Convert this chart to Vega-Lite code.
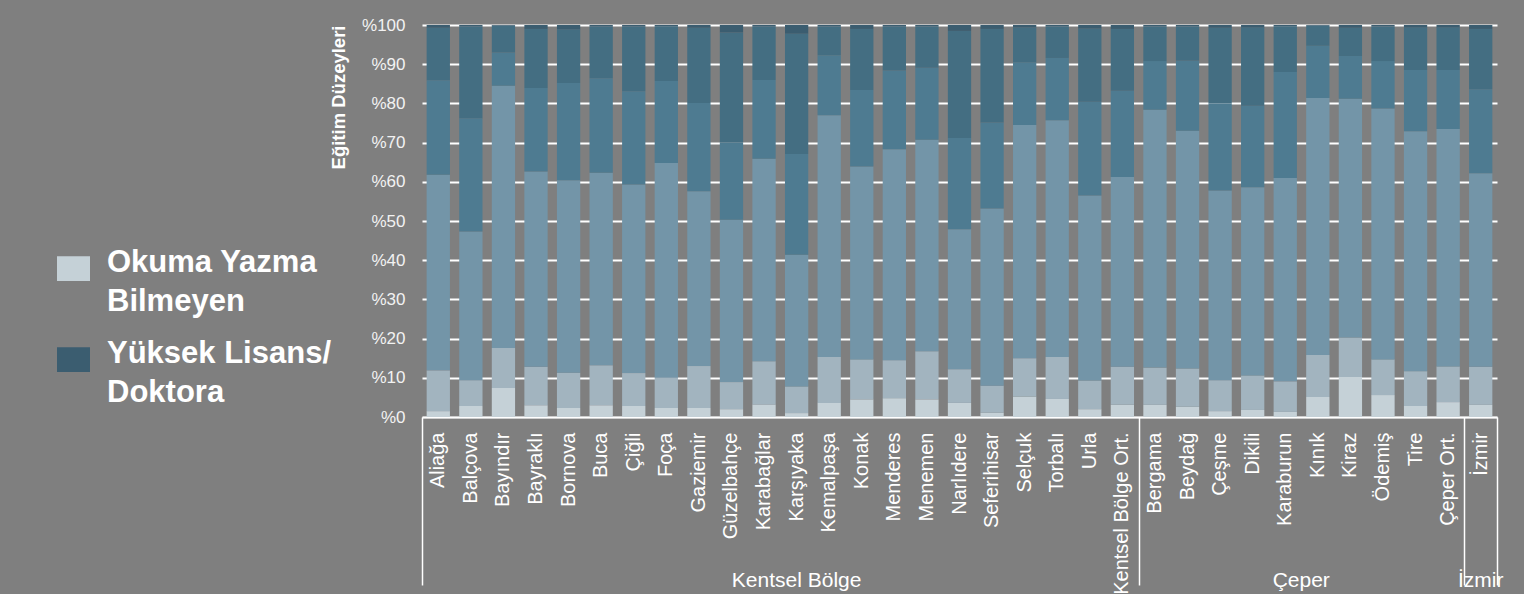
{
  "$schema": "https://vega.github.io/schema/vega-lite/v6.json",
  "width": 1075,
  "height": 392,
  "autosize": {"type": "none"},
  "padding": {"left": 422, "top": 25, "right": 27, "bottom": 177},
  "background": "#7f7f7f",
  "config": {"view": {"stroke": null}, "font": "Liberation Sans"},
  "datasets": {
    "duzeyler": [
      {"duzey": "Okuma Yazma Bilmeyen", "sira": 1},
      {"duzey": "Okuma Yazma Bilen", "sira": 2},
      {"duzey": "İlköğretim", "sira": 3},
      {"duzey": "Lise", "sira": 4},
      {"duzey": "Üniversite", "sira": 5},
      {"duzey": "Yüksek Lisans/ Doktora", "sira": 6}
    ]
  },
  "data": {
    "values": [
      {"ilce": "Aliağa", "Okuma Yazma Bilmeyen": 1.5, "Okuma Yazma Bilen": 10.4, "İlköğretim": 49.9, "Lise": 24.1, "Üniversite": 13.4, "Yüksek Lisans/ Doktora": 0.7},
      {"ilce": "Balçova", "Okuma Yazma Bilmeyen": 2.8, "Okuma Yazma Bilen": 6.6, "İlköğretim": 37.9, "Lise": 28.9, "Üniversite": 23.4, "Yüksek Lisans/ Doktora": 0.4},
      {"ilce": "Bayındır", "Okuma Yazma Bilmeyen": 7.4, "Okuma Yazma Bilen": 10.2, "İlköğretim": 66.9, "Lise": 8.5, "Üniversite": 6.8, "Yüksek Lisans/ Doktora": 0.2},
      {"ilce": "Bayraklı", "Okuma Yazma Bilmeyen": 3.0, "Okuma Yazma Bilen": 9.8, "İlköğretim": 49.8, "Lise": 21.3, "Üniversite": 15.1, "Yüksek Lisans/ Doktora": 1.0},
      {"ilce": "Bornova", "Okuma Yazma Bilmeyen": 2.3, "Okuma Yazma Bilen": 9.0, "İlköğretim": 49.1, "Lise": 24.8, "Üniversite": 13.7, "Yüksek Lisans/ Doktora": 1.1},
      {"ilce": "Buca", "Okuma Yazma Bilmeyen": 3.0, "Okuma Yazma Bilen": 10.2, "İlköğretim": 49.1, "Lise": 24.1, "Üniversite": 13.2, "Yüksek Lisans/ Doktora": 0.4},
      {"ilce": "Çiğli", "Okuma Yazma Bilmeyen": 2.8, "Okuma Yazma Bilen": 8.4, "İlköğretim": 48.1, "Lise": 23.8, "Üniversite": 16.5, "Yüksek Lisans/ Doktora": 0.4},
      {"ilce": "Foça", "Okuma Yazma Bilmeyen": 2.3, "Okuma Yazma Bilen": 7.7, "İlköğretim": 54.8, "Lise": 20.9, "Üniversite": 14.0, "Yüksek Lisans/ Doktora": 0.3},
      {"ilce": "Gaziemir", "Okuma Yazma Bilmeyen": 2.3, "Okuma Yazma Bilen": 10.7, "İlköğretim": 44.6, "Lise": 22.5, "Üniversite": 19.2, "Yüksek Lisans/ Doktora": 0.7},
      {"ilce": "Güzelbahçe", "Okuma Yazma Bilmeyen": 2.0, "Okuma Yazma Bilen": 6.9, "İlköğretim": 41.4, "Lise": 19.7, "Üniversite": 28.1, "Yüksek Lisans/ Doktora": 1.9},
      {"ilce": "Karabağlar", "Okuma Yazma Bilmeyen": 3.2, "Okuma Yazma Bilen": 11.0, "İlköğretim": 51.7, "Lise": 20.1, "Üniversite": 13.6, "Yüksek Lisans/ Doktora": 0.4},
      {"ilce": "Karşıyaka", "Okuma Yazma Bilmeyen": 1.0, "Okuma Yazma Bilen": 6.8, "İlköğretim": 33.6, "Lise": 25.7, "Üniversite": 30.7, "Yüksek Lisans/ Doktora": 2.2},
      {"ilce": "Kemalpaşa", "Okuma Yazma Bilmeyen": 3.6, "Okuma Yazma Bilen": 11.7, "İlköğretim": 61.7, "Lise": 15.3, "Üniversite": 7.3, "Yüksek Lisans/ Doktora": 0.4},
      {"ilce": "Konak", "Okuma Yazma Bilmeyen": 4.5, "Okuma Yazma Bilen": 10.2, "İlköğretim": 49.2, "Lise": 19.5, "Üniversite": 15.6, "Yüksek Lisans/ Doktora": 1.0},
      {"ilce": "Menderes", "Okuma Yazma Bilmeyen": 4.8, "Okuma Yazma Bilen": 9.7, "İlköğretim": 53.8, "Lise": 20.1, "Üniversite": 11.2, "Yüksek Lisans/ Doktora": 0.4},
      {"ilce": "Menemen", "Okuma Yazma Bilmeyen": 4.5, "Okuma Yazma Bilen": 12.3, "İlköğretim": 53.9, "Lise": 18.4, "Üniversite": 10.5, "Yüksek Lisans/ Doktora": 0.4},
      {"ilce": "Narlıdere", "Okuma Yazma Bilmeyen": 3.6, "Okuma Yazma Bilen": 8.6, "İlköğretim": 35.7, "Lise": 23.3, "Üniversite": 27.3, "Yüksek Lisans/ Doktora": 1.5},
      {"ilce": "Seferihisar", "Okuma Yazma Bilmeyen": 1.1, "Okuma Yazma Bilen": 6.9, "İlköğretim": 45.2, "Lise": 21.9, "Üniversite": 23.9, "Yüksek Lisans/ Doktora": 1.0},
      {"ilce": "Selçuk", "Okuma Yazma Bilmeyen": 5.2, "Okuma Yazma Bilen": 9.8, "İlköğretim": 59.5, "Lise": 16.0, "Üniversite": 8.9, "Yüksek Lisans/ Doktora": 0.6},
      {"ilce": "Torbalı", "Okuma Yazma Bilmeyen": 4.6, "Okuma Yazma Bilen": 10.7, "İlköğretim": 60.4, "Lise": 15.9, "Üniversite": 8.0, "Yüksek Lisans/ Doktora": 0.4},
      {"ilce": "Urla", "Okuma Yazma Bilmeyen": 2.0, "Okuma Yazma Bilen": 7.3, "İlköğretim": 47.2, "Lise": 23.9, "Üniversite": 18.7, "Yüksek Lisans/ Doktora": 0.9},
      {"ilce": "Kentsel Bölge Ort.", "Okuma Yazma Bilmeyen": 3.1, "Okuma Yazma Bilen": 9.7, "İlköğretim": 48.4, "Lise": 22.0, "Üniversite": 15.8, "Yüksek Lisans/ Doktora": 1.0},
      {"ilce": "Bergama", "Okuma Yazma Bilmeyen": 3.1, "Okuma Yazma Bilen": 9.5, "İlköğretim": 65.8, "Lise": 12.4, "Üniversite": 8.8, "Yüksek Lisans/ Doktora": 0.4},
      {"ilce": "Beydağ", "Okuma Yazma Bilmeyen": 2.6, "Okuma Yazma Bilen": 9.8, "İlköğretim": 60.6, "Lise": 17.9, "Üniversite": 8.7, "Yüksek Lisans/ Doktora": 0.4},
      {"ilce": "Çeşme", "Okuma Yazma Bilmeyen": 1.5, "Okuma Yazma Bilen": 7.9, "İlköğretim": 48.4, "Lise": 22.2, "Üniversite": 19.3, "Yüksek Lisans/ Doktora": 0.7},
      {"ilce": "Dikili", "Okuma Yazma Bilmeyen": 1.8, "Okuma Yazma Bilen": 8.8, "İlköğretim": 48.0, "Lise": 20.8, "Üniversite": 20.0, "Yüksek Lisans/ Doktora": 0.6},
      {"ilce": "Karaburun", "Okuma Yazma Bilmeyen": 1.3, "Okuma Yazma Bilen": 7.8, "İlköğretim": 51.9, "Lise": 27.0, "Üniversite": 11.7, "Yüksek Lisans/ Doktora": 0.3},
      {"ilce": "Kınık", "Okuma Yazma Bilmeyen": 5.1, "Okuma Yazma Bilen": 10.7, "İlköğretim": 65.6, "Lise": 13.3, "Üniversite": 5.1, "Yüksek Lisans/ Doktora": 0.2},
      {"ilce": "Kiraz", "Okuma Yazma Bilmeyen": 10.2, "Okuma Yazma Bilen": 10.1, "İlköğretim": 60.9, "Lise": 10.9, "Üniversite": 7.2, "Yüksek Lisans/ Doktora": 0.7},
      {"ilce": "Ödemiş", "Okuma Yazma Bilmeyen": 5.6, "Okuma Yazma Bilen": 9.1, "İlköğretim": 64.0, "Lise": 12.1, "Üniversite": 8.8, "Yüksek Lisans/ Doktora": 0.4},
      {"ilce": "Tire", "Okuma Yazma Bilmeyen": 2.8, "Okuma Yazma Bilen": 8.9, "İlköğretim": 61.2, "Lise": 15.6, "Üniversite": 10.9, "Yüksek Lisans/ Doktora": 0.6},
      {"ilce": "Çeper Ort.", "Okuma Yazma Bilmeyen": 3.8, "Okuma Yazma Bilen": 9.1, "İlköğretim": 60.6, "Lise": 15.0, "Üniversite": 10.9, "Yüksek Lisans/ Doktora": 0.6},
      {"ilce": "İzmir", "Okuma Yazma Bilmeyen": 3.1, "Okuma Yazma Bilen": 9.7, "İlköğretim": 49.4, "Lise": 21.4, "Üniversite": 15.4, "Yüksek Lisans/ Doktora": 1.0}
    ]
  },
  "transform": [
    {"fold": ["Okuma Yazma Bilmeyen", "Okuma Yazma Bilen", "İlköğretim", "Lise", "Üniversite", "Yüksek Lisans/ Doktora"], "as": ["duzey", "yuzde"]},
    {"lookup": "duzey", "from": {"data": {"name": "duzeyler"}, "key": "duzey", "fields": ["sira"]}}
  ],
  "layer": [
    {
      "mark": {"type": "bar", "width": {"band": 0.715}},
      "encoding": {
        "x": {
          "field": "ilce", "type": "nominal", "sort": null,
          "scale": {"paddingInner": 0, "paddingOuter": 0},
          "axis": {
            "title": null, "orient": "bottom", "labelAngle": 270, "labelFontSize": 20,
            "labelColor": "#ffffff", "labelPadding": 15, "ticks": false,
            "domainColor": "#ffffff", "domainWidth": 1.5, "labelLimit": 300
          }
        },
        "y": {
          "field": "yuzde", "type": "quantitative", "stack": "zero",
          "scale": {"domain": [0, 100], "nice": false},
          "axis": {
            "values": [0, 10, 20, 30, 40, 50, 60, 70, 80, 90, 100],
            "labelExpr": "'%' + datum.value",
            "labelFontSize": 17, "labelColor": "#f2f2f2", "labelPadding": 17,
            "ticks": false, "domain": false,
            "grid": true, "gridColor": "#ffffff", "gridWidth": 2,
            "title": "Eğitim Düzeyleri", "titleFontSize": 18.5, "titleFontWeight": "bold",
            "titleColor": "#ffffff", "titleAnchor": "end", "titlePadding": 13
          }
        },
        "color": {
          "field": "duzey", "type": "nominal",
          "scale": {
            "domain": ["Okuma Yazma Bilmeyen", "Okuma Yazma Bilen", "İlköğretim", "Lise", "Üniversite", "Yüksek Lisans/ Doktora"],
            "range": ["#c5d1d7", "#a2b4bf", "#7395a8", "#4e7b91", "#446e82", "#3b5d70"]
          },
          "legend": {
            "values": ["Okuma Yazma Bilmeyen", "Yüksek Lisans/ Doktora"],
            "title": null, "orient": "none", "legendX": -365, "legendY": 227,
            "direction": "vertical",
            "symbolType": "M-1,-0.75H1V0.75H-1Z", "symbolSize": 1089, "symbolStrokeWidth": 0,
            "symbolOpacity": 1,
            "labelFontSize": 31, "labelFontWeight": "bold", "labelColor": "#ffffff",
            "labelOffset": 17, "labelLimit": 600, "rowPadding": 20,
            "labelExpr": "datum.label == 'Okuma Yazma Bilmeyen' ? ['Okuma Yazma', 'Bilmeyen'] : ['Yüksek Lisans/', 'Doktora']",
            "encode": {"labels": {"update": {"lineHeight": {"value": 39}, "dy": {"value": -6}}}}
          }
        },
        "order": {"field": "sira", "type": "quantitative"}
      }
    },
    {
      "mark": {"type": "bar", "opacity": 0},
      "encoding": {
        "x": {
          "field": "ilce", "type": "nominal", "sort": null,
          "axis": {
            "title": null, "orient": "bottom", "labels": false, "domain": false,
            "ticks": true, "tickBand": "extent", "tickSize": 168,
            "tickColor": "#ffffff", "tickWidth": 1.5,
            "tickOpacity": {"condition": {"test": "datum.extra || datum.value == 'Kentsel Bölge Ort.' || datum.value == 'Çeper Ort.' || datum.value == 'İzmir'", "value": 1}, "value": 0}
          }
        }
      }
    },
    {
      "mark": {"type": "bar", "opacity": 0},
      "encoding": {
        "x": {
          "field": "ilce", "type": "nominal", "sort": null,
          "axis": {
            "title": null, "orient": "bottom", "values": ["Karşıyaka", "Karaburun", "İzmir"],
            "ticks": false, "domain": false, "labelAngle": 0, "labelFontSize": 21,
            "labelColor": "#ffffff", "labelPadding": 152, "labelBaseline": "top", "labelAlign": "center",
            "labelExpr": "datum.value == 'Karşıyaka' ? 'Kentsel Bölge' : datum.value == 'Karaburun' ? 'Çeper' : 'İzmir'",
            "labelOffset": {"condition": {"test": "datum.value == 'Karaburun'", "value": 16}, "value": 0}
          }
        }
      }
    }
  ],
  "resolve": {"axis": {"x": "independent"}}
}
